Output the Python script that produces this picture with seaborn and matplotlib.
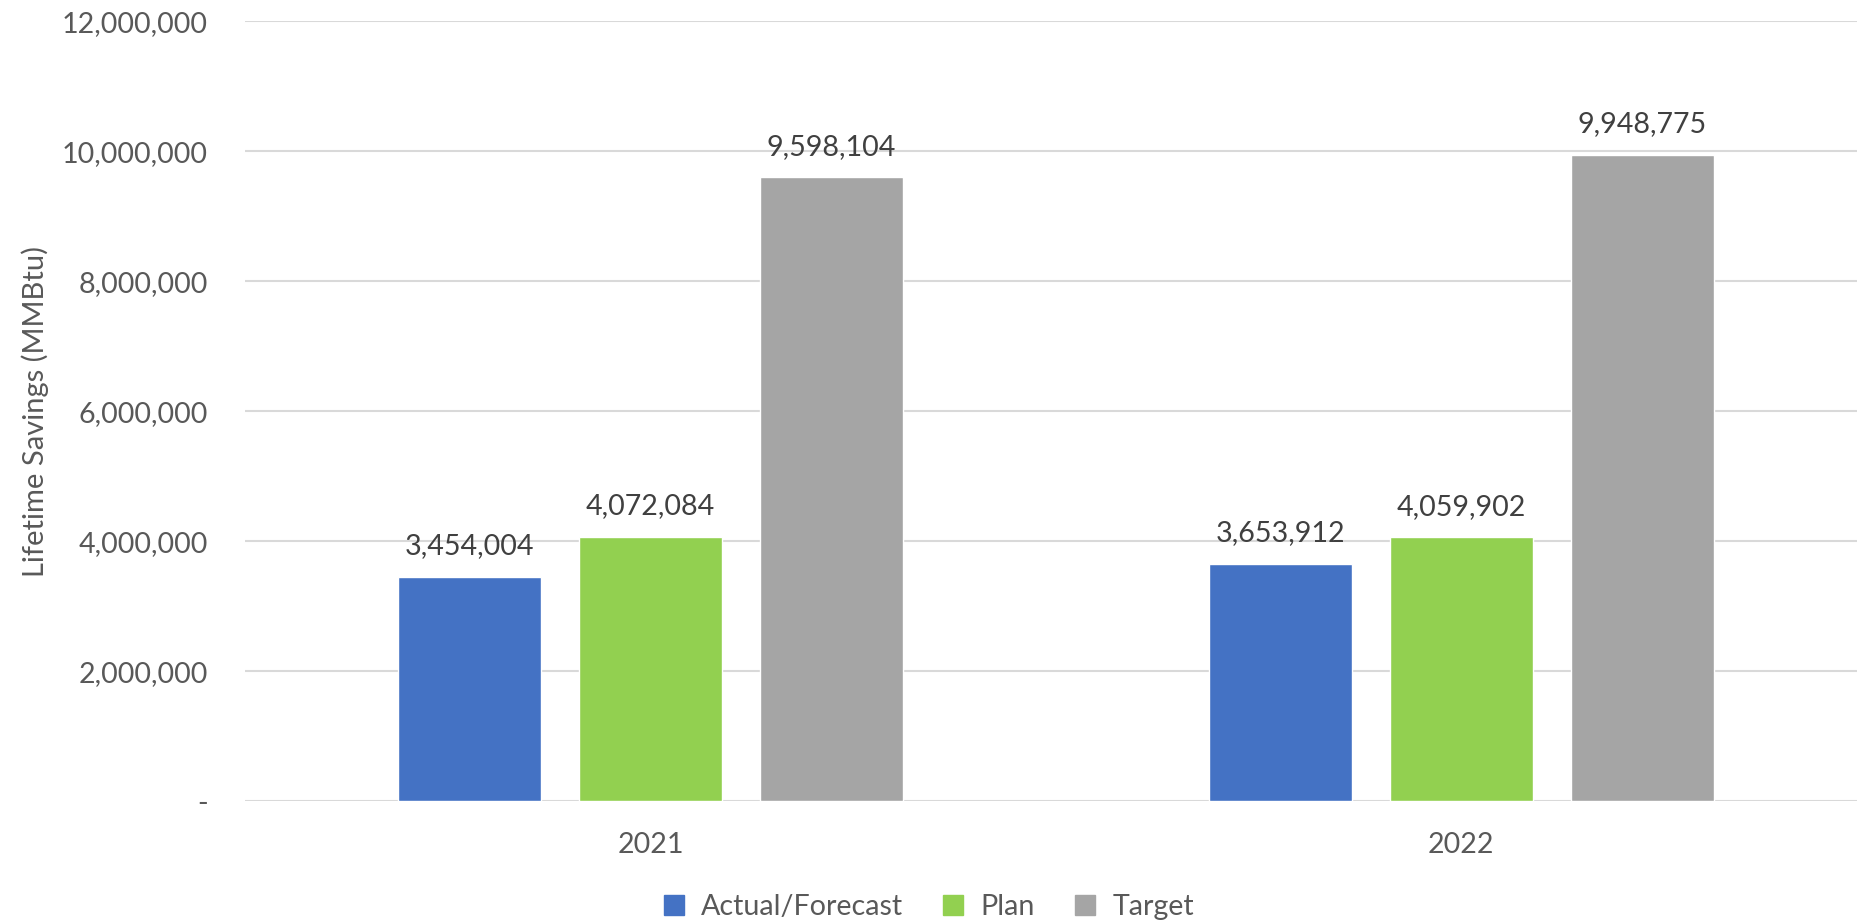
import matplotlib
matplotlib.use("Agg")
import matplotlib.pyplot as plt
import seaborn as sns
import pandas as pd

years = ["2021", "2022"]
series = ["Actual/Forecast", "Plan", "Target"]
actual_forecast = [3454004, 3653912]
plan = [4072084, 4059902]
target = [9598104, 9948775]
colors = ["#4472C4", "#92D050", "#A5A5A5"]

rows = []
for name, vals in zip(series, [actual_forecast, plan, target]):
    for y, v in zip(years, vals):
        rows.append({"Year": y, "Series": name, "Value": v})
df = pd.DataFrame(rows)

sns.set_theme(style="white")
plt.rcParams["font.family"] = ["Lato", "DejaVu Sans"]
FS = 20.6

fig = plt.figure(figsize=(18.58, 9.23), dpi=100)
ax = fig.add_axes([0.1319, 0.132, 0.8727, 0.845])

sns.barplot(data=df, x="Year", y="Value", hue="Series", order=years,
            hue_order=series, palette=colors, width=0.67, gap=0.21,
            saturation=1, errorbar=None, ax=ax, legend=True)

for cont in ax.containers:
    ax.bar_label(cont, labels=[f"{v:,.0f}" for v in cont.datavalues],
                 padding=12.5, fontsize=FS, color="#404040")

ax.set_ylim(0, 12000000)
ax.set_xlim(-0.5, 1.5)
yt = list(range(0, 12000001, 2000000))
ax.set_yticks(yt)
ax.set_yticklabels(["-" if v == 0 else f"{v:,}" for v in yt])
ax.tick_params(axis="both", length=0, labelsize=FS, labelcolor="#595959")
ax.tick_params(axis="y", pad=27)
ax.tick_params(axis="x", pad=22)
ax.grid(axis="y", color="#D9D9D9", linewidth=1.5)
ax.set_axisbelow(True)
for s in ax.spines.values():
    s.set_visible(False)
ax.set_xlabel("")
ax.set_ylabel("Lifetime Savings (MMBtu)", fontsize=21, color="#595959", labelpad=9)

ax.legend_.remove()
handles = [plt.Rectangle((0, 0), 1, 1, color=c) for c in colors]
fig.legend(handles, series, loc="center", bbox_to_anchor=(0.5, 0.017),
           ncol=3, frameon=False, fontsize=FS, labelcolor="#595959",
           handlelength=0.7, handleheight=0.7, handletextpad=0.6,
           columnspacing=1.4)

fig.savefig("out.png", dpi=100, facecolor="white")
